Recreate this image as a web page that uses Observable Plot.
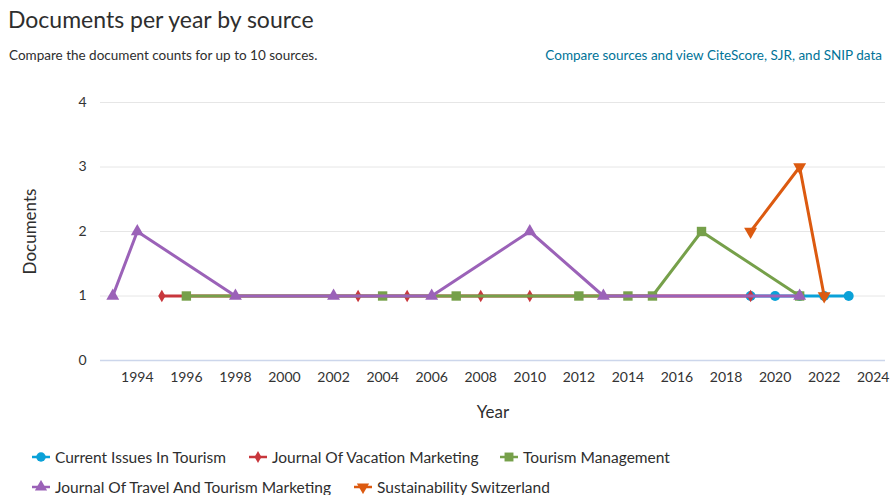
<!DOCTYPE html>
<html><head><meta charset="utf-8">
<script src="https://cdn.jsdelivr.net/npm/d3@7"></script>
<script src="https://cdn.jsdelivr.net/npm/@observablehq/plot@0.6"></script>
<style>
body{margin:0;background:#fff;font-family:Lato,"Open Sans",sans-serif;color:#2e2e2e;}
#wrap{position:relative;width:890px;height:495px;overflow:hidden;}
#title{position:absolute;left:8px;top:5px;font-size:23px;color:#2e2e2e;white-space:nowrap;}
#sub{position:absolute;left:9px;top:47px;font-size:13.5px;color:#2e2e2e;white-space:nowrap;}
#link{position:absolute;right:8px;top:47px;font-size:13.5px;color:#007398;white-space:nowrap;}
#chart{position:absolute;left:0;top:75px;}
#chart svg{font-family:Lato,"Open Sans",sans-serif;}
.leg{position:absolute;font-size:15.5px;color:#2e2e2e;white-space:nowrap;display:flex;align-items:center;}
.leg svg{margin-right:3px;}
</style></head>
<body><div id="wrap">
<div id="title">Documents per year by source</div>
<div id="sub">Compare the document counts for up to 10 sources.</div>
<div id="link">Compare sources and view CiteScore, SJR, and SNIP data</div>
<div id="chart"></div>
<div id="legend"></div>
</div>
<script>
// Data
const currentIssuesYears = [2019, 2020, 2021, 2022, 2023];
const currentIssuesValues = [1, 1, 1, 1, 1];
const vacationYears = [1995, 2003, 2005, 2008, 2010, 2019];
const vacationValues = [1, 1, 1, 1, 1, 1];
const tourismMgmtYears = [1996, 2004, 2007, 2012, 2014, 2015, 2017, 2021];
const tourismMgmtValues = [1, 1, 1, 1, 1, 1, 2, 1];
const travelTourismYears = [1993, 1994, 1998, 2002, 2006, 2010, 2013, 2021];
const travelTourismValues = [1, 2, 1, 1, 1, 2, 1, 1];
const sustainabilityYears = [2019, 2021, 2022];
const sustainabilityValues = [2, 3, 1];
const xTicks = [1994, 1996, 1998, 2000, 2002, 2004, 2006, 2008, 2010, 2012, 2014, 2016, 2018, 2020, 2022, 2024];
const yTicks = [0, 1, 2, 3, 4];

const series = [
  {name: "Current Issues In Tourism", color: "#0aa1d8", symbol: "circle", rotate: 0, r: 5, years: currentIssuesYears, values: currentIssuesValues},
  {name: "Journal Of Vacation Marketing", color: "#c8373c", symbol: "diamond", rotate: 0, r: 3.8, years: vacationYears, values: vacationValues},
  {name: "Tourism Management", color: "#76a04a", symbol: "square", rotate: 0, r: 5.3, years: tourismMgmtYears, values: tourismMgmtValues},
  {name: "Journal Of Travel And Tourism Marketing", color: "#9b62b8", symbol: "triangle", rotate: 0, r: 4.8, years: travelTourismYears, values: travelTourismValues},
  {name: "Sustainability Switzerland", color: "#dc5a10", symbol: "triangle", rotate: 180, r: 4.8, years: sustainabilityYears, values: sustainabilityValues}
];

const marks = [
  Plot.gridY([1, 2, 3, 4], {stroke: "#e6e6e6", strokeOpacity: 1, strokeWidth: 1}),
  Plot.ruleY([0], {stroke: "#ccd6eb", strokeWidth: 1.5})
];
for (const s of series) {
  const data = s.years.map((y, i) => ({year: y, value: s.values[i]}));
  marks.push(Plot.line(data, {x: "year", y: "value", stroke: s.color, strokeWidth: 3}));
  marks.push(Plot.dot(data, {x: "year", y: "value", fill: s.color, symbol: () => s.symbol, r: s.r, rotate: s.rotate, stroke: "none"}));
}
marks.push(Plot.axisX({ticks: xTicks, tickSize: 0, tickPadding: 12, tickFormat: d => String(d), label: "Year", labelAnchor: "center", labelArrow: "none", labelOffset: 57, fontSize: 14, fill: "#333"}));
marks.push(Plot.axisY({ticks: yTicks, tickSize: 0, tickPadding: 14, tickFormat: d => String(d), label: "Documents", labelAnchor: "center", labelArrow: "none", labelOffset: 77, fontSize: 14, fill: "#333"}));

const chart = Plot.plot({
  width: 890,
  height: 355,
  marginTop: 27,
  marginBottom: 70,
  marginLeft: 100,
  marginRight: 5,
  x: {domain: [1992.5, 2024.5]},
  y: {domain: [0, 4]},
  symbol: {type: "identity"},
  marks
});
document.getElementById("chart").appendChild(chart);
chart.querySelectorAll('[aria-label="x-axis label"] text, [aria-label="y-axis label"] text').forEach(t => {
  t.style.fontSize = "17px"; t.setAttribute("fill", "#2e2e2e");
});

// Legend
const legendPos = [[31, 448], [248, 448], [499, 448], [31, 478], [353, 478]];
const legend = document.getElementById("legend");
series.forEach((s, i) => {
  const div = document.createElement("div");
  div.className = "leg";
  div.style.left = legendPos[i][0] + "px";
  div.style.top = legendPos[i][1] + "px";
  const sym = d3.symbol().type({circle: d3.symbolCircle, diamond: d3.symbolDiamond, square: d3.symbolSquare, triangle: d3.symbolTriangle}[s.symbol]).size(s.r * s.r * Math.PI * 0.9)();
  div.innerHTML = `<svg width="21" height="14"><line x1="1" x2="19" y1="7" y2="7" stroke="${s.color}" stroke-width="2.5"/><path d="${sym}" transform="translate(10,7) rotate(${s.rotate})" fill="${s.color}"/></svg>` ;
  const span = document.createElement("span");
  span.textContent = s.name;
  div.appendChild(span);
  legend.appendChild(div);
});
</script>
</body></html>
